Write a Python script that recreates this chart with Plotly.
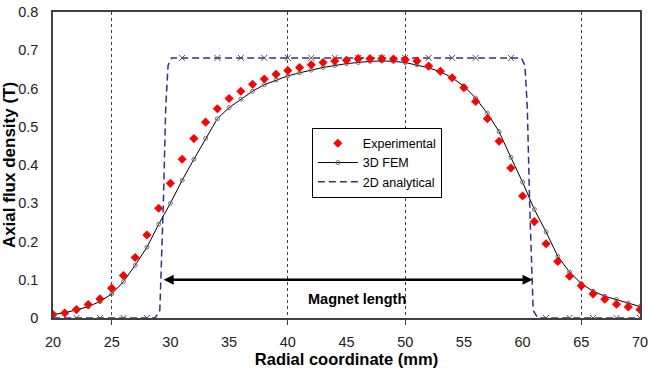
import plotly.graph_objects as go

# Experimental (red diamonds)
exp_x = list(range(20, 71))
exp_y = [0.009, 0.013, 0.022, 0.035, 0.050, 0.078, 0.111, 0.158, 0.217, 0.287,
         0.352, 0.415, 0.469, 0.512, 0.547, 0.574, 0.593, 0.611, 0.625, 0.637,
         0.647, 0.655, 0.662, 0.668, 0.672, 0.674, 0.678, 0.678, 0.678, 0.677,
         0.675, 0.672, 0.659, 0.645, 0.628, 0.602, 0.566, 0.521, 0.462, 0.392,
         0.319, 0.252, 0.194, 0.148, 0.109, 0.084, 0.063, 0.049, 0.036, 0.029,
         0.022]

# 3D FEM (black line with small markers)
fem_x = list(range(20, 71))
fem_y = [0.009, 0.014, 0.021, 0.030, 0.043, 0.063, 0.095, 0.138, 0.185, 0.245,
         0.300, 0.360, 0.415, 0.470, 0.521, 0.550, 0.572, 0.593, 0.610, 0.622,
         0.633, 0.641, 0.648, 0.655, 0.660, 0.665, 0.668, 0.671, 0.672, 0.671,
         0.668, 0.662, 0.654, 0.644, 0.628, 0.606, 0.575, 0.535, 0.487, 0.420,
         0.355, 0.284, 0.225, 0.161, 0.120, 0.090, 0.070, 0.057, 0.048, 0.039,
         0.030]

# 2D analytical (dashed step)
ana_x = [20, 22, 24, 26, 28, 28.7, 29.1, 29.4, 29.6, 29.8, 30.1, 31, 34, 36, 38, 40,
         42, 44, 46, 48, 50, 52, 54, 56, 59, 59.9, 60.2, 60.4, 60.6, 60.9, 61.3,
         62, 64, 66, 68, 70]
ana_y = [0, 0, 0, 0, 0, 0, 0.02, 0.30, 0.55, 0.66, 0.68, 0.68, 0.68, 0.68, 0.68, 0.68,
         0.68, 0.68, 0.68, 0.68, 0.68, 0.68, 0.68, 0.68, 0.68, 0.68, 0.66, 0.55,
         0.30, 0.02, 0, 0, 0, 0, 0, 0]
ana_mark_x = [20, 22, 24, 26, 28, 31, 34, 36, 38, 40, 42, 44, 46, 48, 50, 52, 54,
              56, 59, 62, 64, 66, 68, 70]
ana_mark_y = [0, 0, 0, 0, 0, 0.68, 0.68, 0.68, 0.68, 0.68, 0.68, 0.68, 0.68, 0.68,
              0.68, 0.68, 0.68, 0.68, 0.68, 0, 0, 0, 0, 0]

x_ticks = [20, 25, 30, 35, 40, 45, 50, 55, 60, 65, 70]
y_ticks = [0, 0.1, 0.2, 0.3, 0.4, 0.5, 0.6, 0.7, 0.8]
y_tick_text = ["0", "0.1", "0.2", "0.3", "0.4", "0.5", "0.6", "0.7", "0.8"]
grid_x = [25, 40, 50, 65]

magnet_start, magnet_end, magnet_y = 29.3, 60.85, 0.1
magnet_label_x, magnet_label_y = 45.9, 0.05

navy = "#30308f"

fig = go.Figure()
fig.add_trace(go.Scatter(x=ana_x, y=ana_y, mode="lines", name="2D analytical",
                         line=dict(color=navy, width=1.5, dash="7px,4px"),
                         legendrank=3))
fig.add_trace(go.Scatter(x=ana_mark_x, y=ana_mark_y, mode="markers", showlegend=False,
                         marker=dict(symbol="x-thin-open", size=6, color="#505050",
                                     line=dict(color="#505050", width=1))))
fig.add_trace(go.Scatter(x=fem_x, y=fem_y, mode="lines+markers", name="3D FEM",
                         line=dict(color="black", width=1),
                         marker=dict(symbol="circle-open", size=4, color="#707070",
                                     line=dict(color="#707070", width=1)),
                         legendrank=2))
fig.add_trace(go.Scatter(x=exp_x, y=exp_y, mode="markers", name="Experimental",
                         marker=dict(symbol="diamond", size=7, color="#ff0000"),
                         legendrank=1))

fig.add_annotation(x=magnet_end, y=magnet_y, ax=magnet_start, ay=magnet_y,
                   xref="x", yref="y", axref="x", ayref="y", text="",
                   showarrow=True, arrowside="end+start", arrowhead=2,
                   startarrowhead=2, arrowwidth=2.5, arrowsize=0.8,
                   startarrowsize=0.8, arrowcolor="black")
fig.add_annotation(x=magnet_label_x, y=magnet_label_y, xref="x", yref="y",
                   text="<b>Magnet length</b>", showarrow=False,
                   font=dict(family="Liberation Sans, Arial", size=14.5, color="black"))

fig.update_layout(
    width=652, height=376,
    margin=dict(l=50, r=9, t=4, b=58),
    paper_bgcolor="white", plot_bgcolor="white",
    font=dict(family="Liberation Sans, Arial", size=14.5, color="#222"),
    legend=dict(x=0.441, y=0.622, xanchor="left", yanchor="top",
                bgcolor="white", bordercolor="black", borderwidth=1,
                font=dict(size=12.5, color="black"), tracegroupgap=0,
                itemwidth=40),
    xaxis=dict(range=[20, 70], tickvals=x_ticks, ticks="", showgrid=False,
               zeroline=False, showline=True, linecolor="#404040", linewidth=1.5,
               mirror=True, ticklabelstandoff=10, ticklabeloverflow="allow",
               title=dict(text="<b>Radial coordinate (mm)</b>",
                          font=dict(size=16.5, color="black"), standoff=4),
               minor=dict(tickmode="array", tickvals=grid_x, ticks="outside",
                          ticklen=5, tickcolor="#404040", showgrid=True,
                          gridcolor="#404040", griddash="dot", gridwidth=1)),
    yaxis=dict(range=[0, 0.8], tickvals=y_ticks, ticktext=y_tick_text, ticks="",
               showgrid=False, zeroline=False, showline=True, linecolor="#404040",
               linewidth=1.5, mirror=True, ticklabelstandoff=10,
               ticklabeloverflow="allow",
               title=dict(text="<b>Axial flux density (T)</b>",
                          font=dict(size=17, color="black"), standoff=2)),
)

fig.write_html("out.html")
